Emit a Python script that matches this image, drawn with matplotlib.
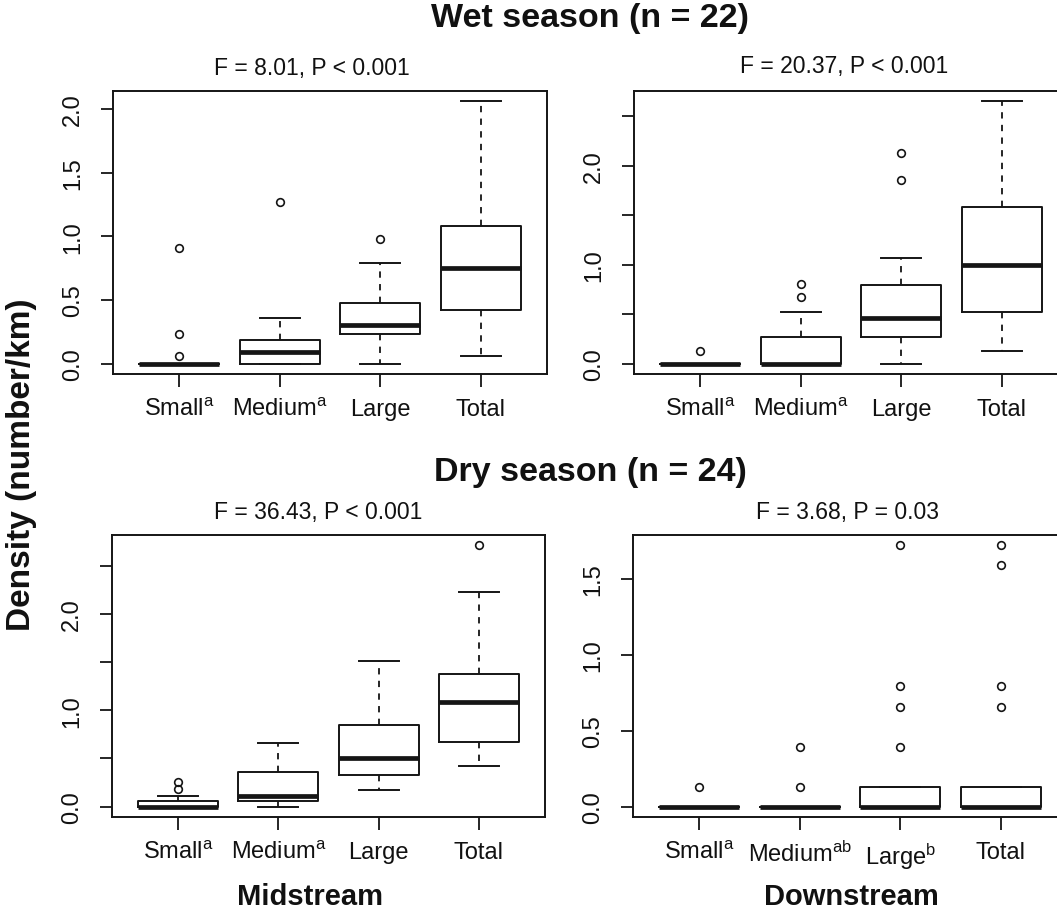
import matplotlib
matplotlib.use("Agg")
import matplotlib.pyplot as plt

plt.rcParams['font.family'] = ['Liberation Sans', 'DejaVu Sans']
plt.rcParams['mathtext.fontset'] = 'custom'
plt.rcParams['mathtext.rm'] = 'Liberation Sans'
plt.rcParams['mathtext.it'] = 'Liberation Sans'
plt.rcParams['mathtext.default'] = 'rm'

# ---------------- data ----------------
categories = ["Small", "Medium", "Large", "Total"]

# Wet season, Midstream
wm_whislo = [0.0, 0.0, 0.0, 0.058]
wm_q1 = [0.0, 0.0, 0.235, 0.42]
wm_med = [0.0, 0.092, 0.30, 0.753]
wm_q3 = [0.0, 0.187, 0.477, 1.085]
wm_whishi = [0.0, 0.36, 0.79, 2.06]
wm_fliers = [[0.06, 0.235, 0.909], [1.27], [0.975], []]
wm_sup = ["a", "a", "", ""]

# Wet season, Downstream
wd_whislo = [0.0, 0.0, 0.0, 0.129]
wd_q1 = [0.0, 0.0, 0.27, 0.52]
wd_med = [0.0, 0.0, 0.46, 1.0]
wd_q3 = [0.0, 0.27, 0.79, 1.587]
wd_whishi = [0.0, 0.52, 1.065, 2.65]
wd_fliers = [[0.125], [0.67, 0.80], [1.855, 2.13], []]
wd_sup = ["a", "a", "", ""]

# Dry season, Midstream
dm_whislo = [0.0, 0.0, 0.173, 0.423]
dm_q1 = [0.0, 0.062, 0.33, 0.67]
dm_med = [0.0, 0.108, 0.503, 1.087]
dm_q3 = [0.062, 0.357, 0.842, 1.376]
dm_whishi = [0.114, 0.662, 1.51, 2.225]
dm_fliers = [[0.18, 0.25], [], [], [2.71]]
dm_sup = ["a", "a", "", ""]

# Dry season, Downstream
dd_whislo = [0.0, 0.0, 0.0, 0.0]
dd_q1 = [0.0, 0.0, 0.0, 0.0]
dd_med = [0.0, 0.0, 0.0, 0.0]
dd_q3 = [0.0, 0.0, 0.132, 0.132]
dd_whishi = [0.0, 0.0, 0.132, 0.132]
dd_fliers = [[0.132], [0.132, 0.39], [0.39, 0.657, 0.793, 1.72],
             [0.657, 0.793, 1.589, 1.72]]
dd_sup = ["a", "ab", "b", ""]

stat_titles = ["F = 8.01, P < 0.001", "F = 20.37, P < 0.001",
               "F = 36.43, P < 0.001", "F = 3.68, P = 0.03"]
season_titles = ["Wet season (n = 22)", "Dry season (n = 24)"]
site_labels = ["Midstream", "Downstream"]
ylabel = "Density (number/km)"

yticks_all = [0.0, 0.5, 1.0, 1.5, 2.0, 2.5]
panel_labeled = [[0.0, 0.5, 1.0, 1.5, 2.0],
                 [0.0, 1.0, 2.0],
                 [0.0, 1.0, 2.0],
                 [0.0, 0.5, 1.0, 1.5]]

panels = [
    (wm_whislo, wm_q1, wm_med, wm_q3, wm_whishi, wm_fliers, wm_sup),
    (wd_whislo, wd_q1, wd_med, wd_q3, wd_whishi, wd_fliers, wd_sup),
    (dm_whislo, dm_q1, dm_med, dm_q3, dm_whishi, dm_fliers, dm_sup),
    (dd_whislo, dd_q1, dd_med, dd_q3, dd_whishi, dd_fliers, dd_sup),
]

# ---------------- layout ----------------
W, H = 1057, 920
fig = plt.figure(figsize=(W / 100, H / 100), dpi=100)
fig.patch.set_facecolor("white")

# axes boxes in pixels: left, top, right, bottom
boxes_px = [(113, 92, 547, 375), (634, 92, 1068, 375),
            (112, 536, 545, 818), (633, 536, 1067, 818)]
stat_pos = [(312, 69), (844, 67), (318, 512), (847, 512)]

LC = "#151515"
TC = "#111111"

for i, (box, pdata) in enumerate(zip(boxes_px, panels)):
    l, t, r, b = box
    ax = fig.add_axes([l / W, 1 - b / H, (r - l) / W, (b - t) / H])
    whislo, q1, med, q3, whishi, fliers, sup = pdata
    stats = []
    for k in range(len(categories)):
        stats.append(dict(whislo=whislo[k], q1=q1[k], med=med[k], q3=q3[k],
                          whishi=whishi[k], fliers=fliers[k]))
    ax.bxp(stats, positions=[1, 2, 3, 4], widths=0.8, capwidths=0.4,
           showfliers=True,
           boxprops=dict(color=LC, linewidth=1.4),
           medianprops=dict(color=LC, linewidth=3.4, solid_capstyle='butt'),
           whiskerprops=dict(color=LC, linewidth=1.3, linestyle=(0, (3.5, 3.5))),
           capprops=dict(color=LC, linewidth=1.4),
           flierprops=dict(marker='o', markersize=5.5, markerfacecolor='none',
                           markeredgecolor=LC, markeredgewidth=1.2,
                           linestyle='none'))
    allv = whislo + whishi + [v for f in fliers for v in f]
    lo, hi = min(allv), max(allv)
    rng = hi - lo
    top = hi + 0.04 * rng
    ax.set_ylim(lo - 0.04 * rng, top)
    ax.set_xlim(0.34, 4.66)

    ax.set_xticks([1, 2, 3, 4])
    xl = []
    for c, s in zip(categories, sup):
        xl.append(c + (r"$^{\mathrm{%s}}$" % s if s else ""))
    ax.set_xticklabels(xl, fontsize=17, color=TC)
    ax.set_yticks([v for v in yticks_all if v <= top])
    ylabs = []
    for v in ax.get_yticks():
        ylabs.append("%.1f" % v if v in panel_labeled[i] else "")
    ax.set_yticklabels(ylabs, fontsize=17, rotation=90, va='center',
                       color=TC)
    ax.tick_params(axis='both', direction='out', length=9, width=1.3,
                   color=LC)
    ax.tick_params(axis='x', pad=8)
    ax.tick_params(axis='y', pad=12)
    for sp in ax.spines.values():
        sp.set_linewidth(1.4)
        sp.set_color(LC)

    sx, sy = stat_pos[i]
    fig.text(sx / W, 1 - sy / H, stat_titles[i], fontsize=16.5,
             ha='center', va='center', color=TC)

fig.text(590 / W, 1 - 18 / H, season_titles[0], fontsize=24.5,
         fontweight='bold', ha='center', va='center', color=TC)
fig.text(590 / W, 1 - 473 / H, season_titles[1], fontsize=24.5,
         fontweight='bold', ha='center', va='center', color=TC)
fig.text(310 / W, 1 - 897 / H, site_labels[0], fontsize=21,
         fontweight='bold', ha='center', va='center', color=TC)
fig.text(851 / W, 1 - 897 / H, site_labels[1], fontsize=21,
         fontweight='bold', ha='center', va='center', color=TC)
fig.text(22 / W, 1 - 465 / H, ylabel, fontsize=24, fontweight='bold',
         rotation=90, ha='center', va='center', color=TC)

fig.savefig("out.png", dpi=100, facecolor="white")
